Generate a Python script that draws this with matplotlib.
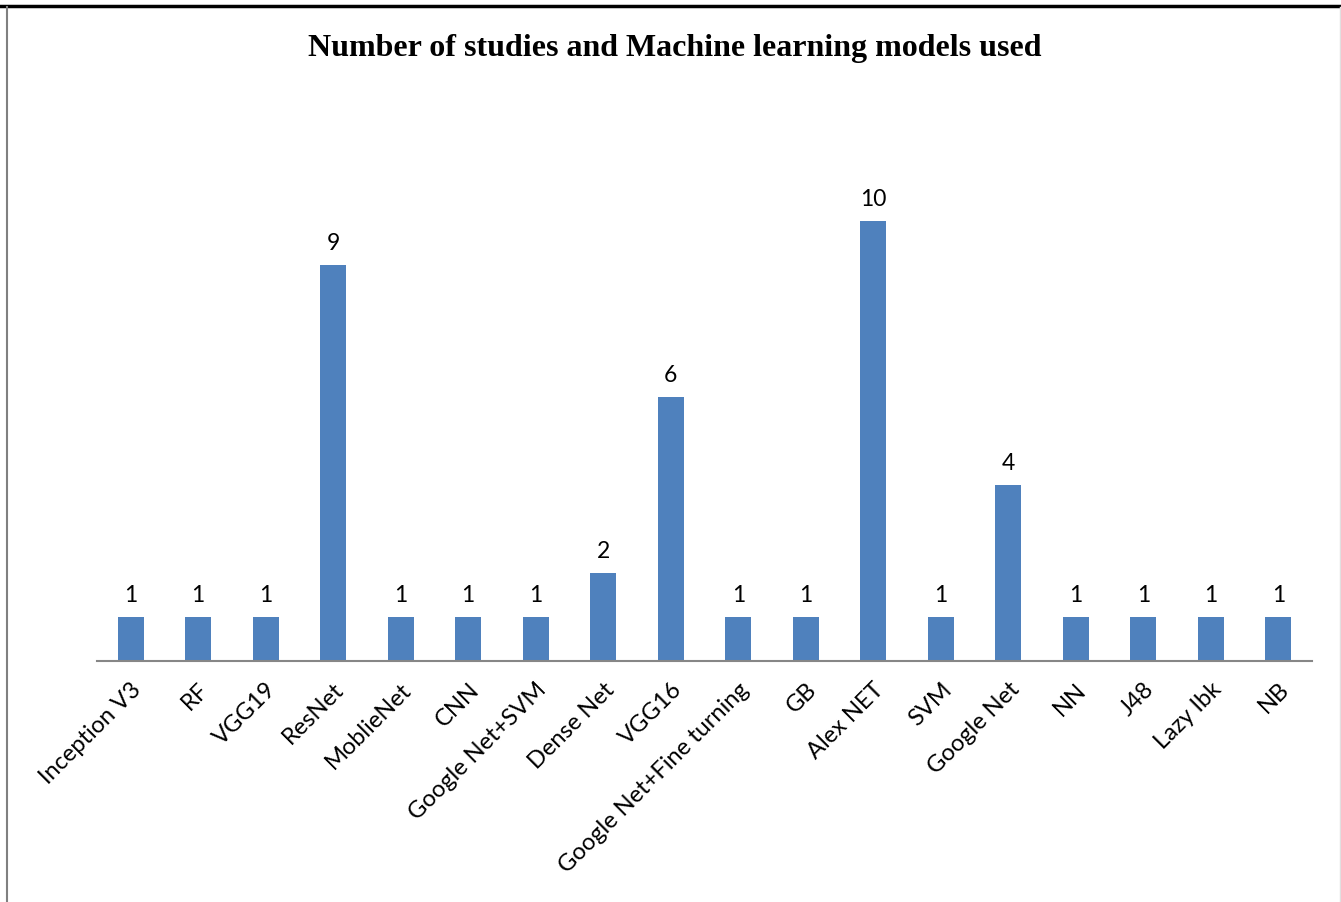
import matplotlib.pyplot as plt
from matplotlib.lines import Line2D

models = ['Inception V3', 'RF', 'VGG19', 'ResNet', 'MoblieNet', 'CNN', 'Google Net+SVM',
          'Dense Net', 'VGG16', 'Google Net+Fine turning', 'GB', 'Alex NET', 'SVM',
          'Google Net', 'NN', 'J48', 'Lazy Ibk', 'NB']
studies = [1, 1, 1, 9, 1, 1, 1, 2, 6, 1, 1, 10, 1, 4, 1, 1, 1, 1]

fig = plt.figure(figsize=(13.41, 9.02), dpi=100)
ax = fig.add_axes([0.0723, 0.2672, 0.9061, 0.5853])

x = range(len(models))
bars = ax.bar(x, studies, width=0.38, color='#4F81BD')
ax.set_xlim(-0.5, len(models) - 0.5)
ax.set_ylim(0, 12)

# value labels on top of bars
for b, v in zip(bars, studies):
    ax.annotate(str(v), (b.get_x() + b.get_width() / 2, v), xytext=(0, 8),
                textcoords='offset points', ha='center', va='bottom',
                fontsize=16.5, family='Lato')

ax.set_xticks(list(x))
ax.set_xticklabels(models, rotation=45, ha='right', rotation_mode='anchor',
                   fontsize=17, family='Lato')
ax.tick_params(axis='x', length=0, pad=13)
ax.set_yticks([])
for s in ['top', 'right', 'left']:
    ax.spines[s].set_visible(False)
ax.spines['bottom'].set_color('#868686')
ax.spines['bottom'].set_linewidth(1.5)

fig.text(0.503, 0.946, 'Number of studies and Machine learning models used',
         ha='center', va='center', fontsize=23, fontweight='bold',
         family='Liberation Serif')

# page frame lines
fig.add_artist(Line2D([0, 1], [0.9935, 0.9935], color='black', lw=2.5))
fig.add_artist(Line2D([0.0055, 0.0055], [0, 0.992], color='#808080', lw=1.5))
fig.add_artist(Line2D([0.9993, 0.9993], [0, 0.992], color='#e0e0e0', lw=1))

fig.savefig('out.png', dpi=100)
